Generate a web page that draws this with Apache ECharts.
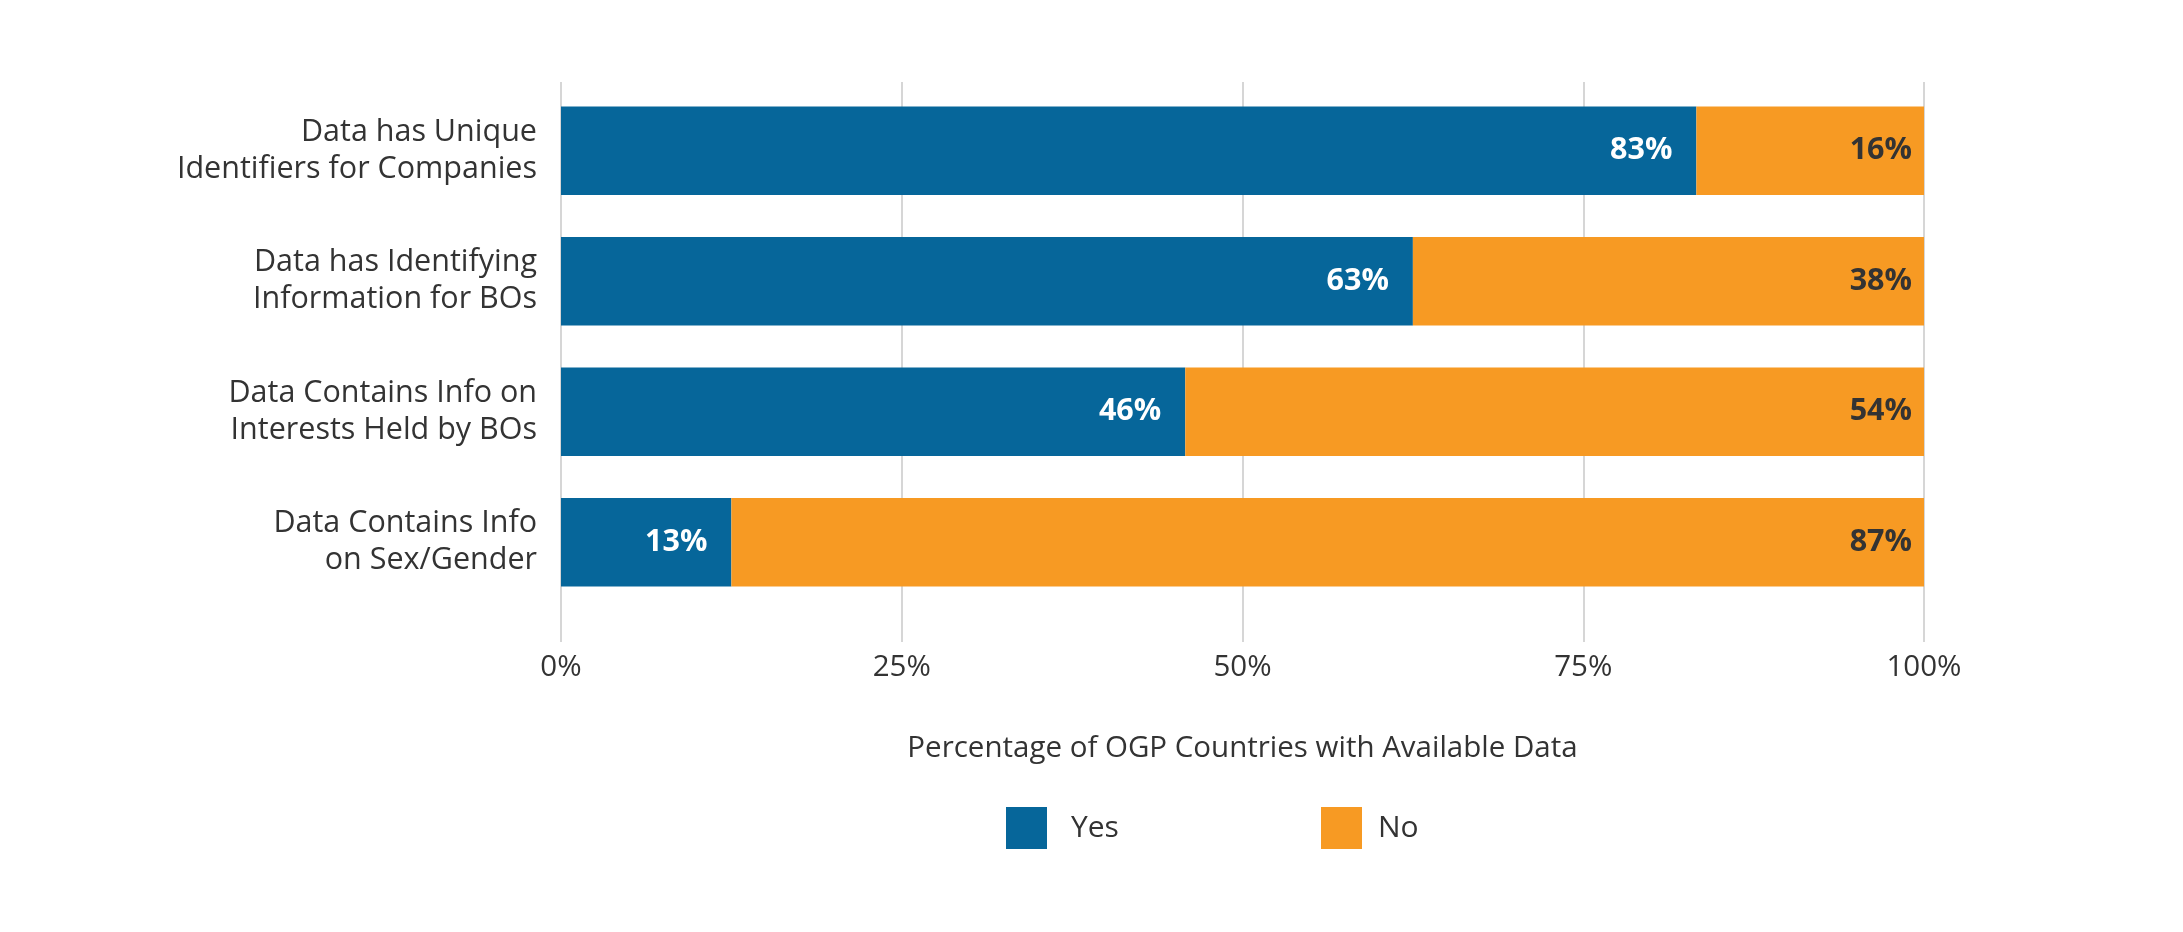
<!DOCTYPE html>
<html>
<head>
<meta charset="utf-8">
<script src="https://cdn.jsdelivr.net/npm/echarts@6/dist/echarts.min.js"></script>
<style>html,body{margin:0;padding:0;background:#fff;}#c{width:2183px;height:932px;}</style>
</head>
<body>
<div id="c"></div>
<script>
const categories = [
  'Data has Unique\nIdentifiers for Companies',
  'Data has Identifying\nInformation for BOs',
  'Data Contains Info on\nInterests Held by BOs',
  'Data Contains Info\non Sex/Gender'
];
const yesValues = [83.3, 62.5, 45.8, 12.5];
const noValues = [16.7, 37.5, 54.2, 87.5];
const yesLabels = ['83%', '63%', '46%', '13%'];
const noLabels = ['16%', '38%', '54%', '87%'];
const tickLabels = ['0%', '25%', '50%', '75%', '100%'];
const axisTitle = 'Percentage of OGP Countries with Available Data';

const FONT = '"Open Sans"';
const BLUE = '#06669A';
const ORANGE = '#F79A23';
const TEXT = '#333333';

const chart = echarts.init(document.getElementById('c'), null, {renderer: 'canvas'});
chart.setOption({
  backgroundColor: '#ffffff',
  animation: false,
  textStyle: {fontFamily: FONT},
  grid: [
    {left: 561, right: 259, top: 85.5, height: 522, containLabel: false},
    {left: 561, right: 259, top: 82, bottom: 290, containLabel: false}
  ],
  xAxis: [
    {gridIndex: 0, type: 'value', min: 0, max: 100, show: false},
    {
      gridIndex: 1, type: 'value', min: 0, max: 100, interval: 25,
      axisLine: {show: false}, axisTick: {show: false},
      splitLine: {show: true, lineStyle: {color: '#c8c8c8', width: 1.5}},
      axisLabel: {
        margin: 11, fontSize: 29.5, color: TEXT, fontFamily: FONT,
        formatter: function (v) { return tickLabels[Math.round(v / 25)]; }
      },
      name: axisTitle, nameLocation: 'middle', nameGap: 92,
      nameTextStyle: {fontSize: 29.5, color: TEXT, fontFamily: FONT}
    }
  ],
  yAxis: [
    {
      gridIndex: 0, type: 'category', data: categories, inverse: true,
      axisLine: {show: false}, axisTick: {show: false}, splitLine: {show: false},
      axisLabel: {margin: 24, fontSize: 30.5, lineHeight: 37, color: TEXT, fontFamily: FONT, align: 'right'}
    },
    {gridIndex: 1, type: 'value', show: false, min: 0, max: 1}
  ],
  legend: [
    {
      data: ['Yes'], left: 1006, top: 807, padding: 0, itemWidth: 41, itemHeight: 42, icon: 'rect',
      textStyle: {fontSize: 30, color: TEXT, fontFamily: FONT, padding: [0, 0, 0, 19]}
    },
    {
      data: ['No'], left: 1321, top: 807, padding: 0, itemWidth: 41, itemHeight: 42, icon: 'rect',
      textStyle: {fontSize: 30, color: TEXT, fontFamily: FONT, padding: [0, 0, 0, 11]}
    }
  ],
  series: [
    {
      name: 'Yes', type: 'bar', stack: 'total', xAxisIndex: 0, yAxisIndex: 0,
      data: yesValues, barCategoryGap: '32%',
      itemStyle: {color: BLUE},
      label: {
        show: true, position: 'insideRight', distance: 24,
        color: '#ffffff', fontWeight: 'bold', fontSize: 30.5, fontFamily: FONT,
        formatter: function (p) { return yesLabels[p.dataIndex]; }
      }
    },
    {
      name: 'No', type: 'bar', stack: 'total', xAxisIndex: 0, yAxisIndex: 0,
      data: noValues,
      itemStyle: {color: ORANGE},
      label: {
        show: true, position: 'insideRight', distance: 12,
        color: TEXT, fontWeight: 'bold', fontSize: 30.5, fontFamily: FONT,
        formatter: function (p) { return noLabels[p.dataIndex]; }
      }
    }
  ]
});
</script>
</body>
</html>
